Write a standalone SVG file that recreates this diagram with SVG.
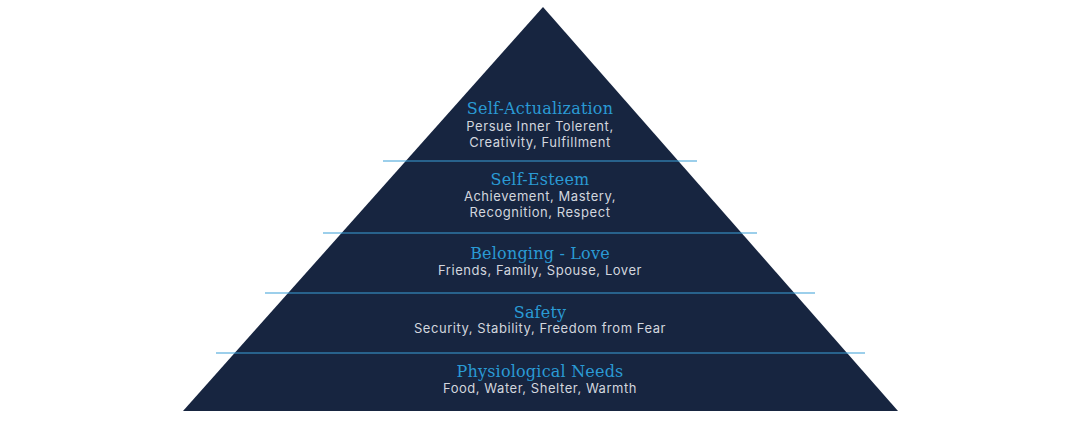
<svg xmlns="http://www.w3.org/2000/svg" width="1071" height="421" viewBox="0 0 1071 421">
<style>
.t{font-family:"DejaVu Serif",serif;font-size:16px;fill:#2a9ad4;text-anchor:middle;letter-spacing:0.2px}
.b{font-family:"Inter","Noto Sans",sans-serif;font-size:13px;fill:#d2d6de;text-anchor:middle;letter-spacing:0.55px}
.sep{stroke:#3a9fd8;stroke-width:1.2}
</style>
<rect width="1071" height="421" fill="#ffffff"/>
<g id="pyramid">
<polygon points="543,7 898,411 183,411" fill="#172540"/>
</g>
<g id="connectors">
<line class="sep" x1="383" y1="161" x2="697" y2="161"/>
<line class="sep" x1="323" y1="233" x2="757" y2="233"/>
<line class="sep" x1="265" y1="293" x2="815" y2="293"/>
<line class="sep" x1="216" y1="353" x2="865" y2="353"/>
</g>
<g id="self-actualization">
<text class="t" x="540" y="114">Self-Actualization</text>
<text class="b" x="540" y="131">Persue Inner Tolerent,</text>
<text class="b" x="540" y="147">Creativity, Fulfillment</text>
</g>
<g id="self-esteem">
<text class="t" x="540" y="185">Self-Esteem</text>
<text class="b" x="540" y="201">Achievement, Mastery,</text>
<text class="b" x="540" y="217">Recognition, Respect</text>
</g>
<g id="belonging">
<text class="t" x="540" y="259">Belonging - Love</text>
<text class="b" x="540" y="275">Friends, Family, Spouse, Lover</text>
</g>
<g id="safety">
<text class="t" x="540" y="318">Safety</text>
<text class="b" x="540" y="333">Security, Stability, Freedom from Fear</text>
</g>
<g id="physiological">
<text class="t" x="540" y="377">Physiological Needs</text>
<text class="b" x="540" y="393">Food, Water, Shelter, Warmth</text>
</g>
</svg>
